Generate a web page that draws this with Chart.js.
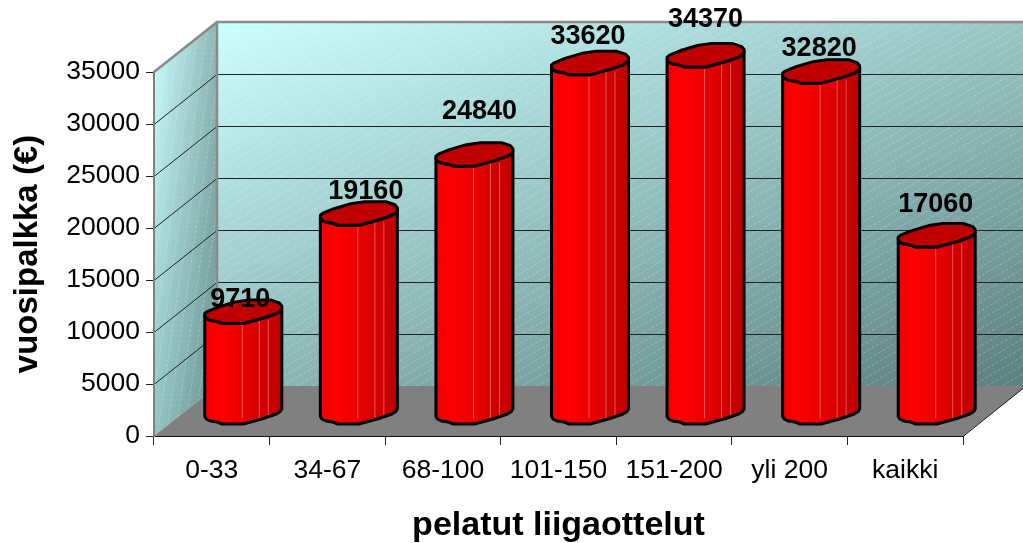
<!DOCTYPE html>
<html>
<head>
<meta charset="utf-8">
<script src="https://cdn.jsdelivr.net/npm/chart.js@4"></script>
<style>
body { margin: 0; background: #fff; }
canvas { display: block; }
</style>
</head>
<body>
<canvas id="salaryChart" width="1023" height="543"></canvas>
<script>
const categories = ['0-33', '34-67', '68-100', '101-150', '151-200', 'yli 200', 'kaikki'];
const salaries = [9710, 19160, 24840, 33620, 34370, 32820, 17060];
const yTicks = [0, 5000, 10000, 15000, 20000, 25000, 30000, 35000];

// 3D look: how far the back wall sits from the front axes
const DEPTH_X = 63;
const DEPTH_Y = 50;
const FONT = '"Liberation Sans", Arial, sans-serif';

// outline of the squashed cylinder, relative to its centre
const FRONT_EDGE = [[-38.5, 6], [-37, 8.5], [-33, 10.5], [-26, 11.5], [-21, 13.5], [0, 13.5], [20, 8], [33, 3.5], [37, 1], [38.5, -1.5]];
const BACK_EDGE = [[38.5, -4], [36, -7], [27, -10], [6, -10], [-8, -8], [-25, -3], [-36, 1.5], [-38.5, 3.5]];
const STRIPES = [38, 55, 64];
// manual label placement in the original, px from the value position
const LABEL_LIFT = [35, 45, 66, 50, 59, 46, 54];
const LABEL_SHIFT = [-3, 7, 5, -2, 0, -2, -1];

function hatch(ctx, x0, y1, x1, dx, dy, step) {
    ctx.save();
    ctx.strokeStyle = 'rgba(255,255,255,0.25)';
    ctx.lineWidth = 1;
    ctx.setLineDash([3, 2]);
    ctx.beginPath();
    for (let p = x0 - 1000; p < x1 + 1000; p += step) {
        ctx.moveTo(p, y1);
        ctx.lineTo(p + dx, y1 + dy);
    }
    ctx.stroke();
    ctx.restore();
}

const wallsPlugin = {
    id: 'walls',
    beforeDraw(chart) {
        const ctx = chart.ctx;
        const x = chart.scales.x;
        const y = chart.scales.y;
        const left = x.left, right = x.right;
        const top = y.top, bottom = y.bottom;
        const backLeft = left + DEPTH_X, backRight = right + DEPTH_X;
        const backTop = top - DEPTH_Y, backBottom = bottom - DEPTH_Y;

        // back wall
        ctx.save();
        ctx.beginPath();
        ctx.rect(backLeft, backTop, backRight - backLeft, backBottom - backTop);
        ctx.clip();
        let g = ctx.createLinearGradient(backLeft, backTop, backLeft + 213, backTop + 582);
        g.addColorStop(0, '#ccffff');
        g.addColorStop(1, '#5c7f7f');
        ctx.fillStyle = g;
        ctx.fillRect(backLeft, backTop, backRight - backLeft, backBottom - backTop);
        hatch(ctx, backLeft, backBottom, backRight, 1200, -700, 15);
        ctx.restore();

        // side wall
        ctx.save();
        ctx.beginPath();
        ctx.moveTo(left, top);
        ctx.lineTo(backLeft, backTop);
        ctx.lineTo(backLeft, backBottom);
        ctx.lineTo(left, bottom);
        ctx.closePath();
        ctx.clip();
        g = ctx.createLinearGradient(left, 0, backLeft, 0);
        g.addColorStop(0, '#ccffff');
        g.addColorStop(1, '#8fb8b8');
        ctx.fillStyle = g;
        ctx.fillRect(left, backTop, DEPTH_X, bottom - backTop);
        g = ctx.createLinearGradient(0, backTop, 0, bottom);
        g.addColorStop(0, 'rgba(0,40,40,0)');
        g.addColorStop(1, 'rgba(0,40,40,0.28)');
        ctx.fillStyle = g;
        ctx.fillRect(left, backTop, DEPTH_X, bottom - backTop);
        ctx.strokeStyle = 'rgba(255,255,255,0.25)';
        ctx.setLineDash([3, 2]);
        ctx.beginPath();
        for (let p = left - 60; p < backLeft; p += 9) {
            ctx.moveTo(p, bottom);
            ctx.lineTo(p + 60, backTop);
        }
        ctx.stroke();
        ctx.restore();

        // floor
        ctx.beginPath();
        ctx.moveTo(left, bottom);
        ctx.lineTo(right, bottom);
        ctx.lineTo(backRight, backBottom);
        ctx.lineTo(backLeft, backBottom);
        ctx.closePath();
        ctx.fillStyle = '#808080';
        ctx.fill();
        ctx.strokeStyle = '#111';
        ctx.lineWidth = 1;
        ctx.beginPath();
        ctx.moveTo(right, bottom + 0.5);
        ctx.lineTo(backRight, backBottom);
        ctx.stroke();

        // gridlines run along the side wall and the back wall
        ctx.strokeStyle = '#222';
        ctx.lineWidth = 1;
        ctx.beginPath();
        y.ticks.forEach((t, i) => {
            if (t.value === 0) return;
            const py = Math.round(y.getPixelForTick(i)) + 0.5;
            ctx.moveTo(left, py);
            ctx.lineTo(backLeft, py - DEPTH_Y);
            if (t.value < yTicks[yTicks.length - 1]) {
                ctx.moveTo(backLeft, py - DEPTH_Y);
                ctx.lineTo(backRight, py - DEPTH_Y);
            }
        });
        ctx.stroke();

        // wall edges
        ctx.strokeStyle = '#8a8a8a';
        ctx.lineWidth = 2.5;
        ctx.beginPath();
        ctx.moveTo(left, top);
        ctx.lineTo(backLeft, backTop);
        ctx.lineTo(backRight, backTop);
        ctx.moveTo(backLeft, backTop);
        ctx.lineTo(backLeft, backBottom);
        ctx.stroke();
    }
};

function tracePoints(ctx, pts, cx, cy) {
    pts.forEach(p => ctx.lineTo(cx + p[0], cy + p[1]));
}

const cylinderPlugin = {
    id: 'cylinders',
    afterDatasetsDraw(chart) {
        const ctx = chart.ctx;
        const bars = chart.getDatasetMeta(0).data;
        ctx.save();
        ctx.lineJoin = 'round';
        bars.forEach(bar => {
            const cx = bar.x + DEPTH_X / 2;
            const topY = bar.y - DEPTH_Y / 2;
            const baseY = bar.base - DEPTH_Y / 2;
            const x0 = cx - 39.5;

            const g = ctx.createLinearGradient(x0, 0, x0 + 79, 0);
            g.addColorStop(0, '#f00000');
            g.addColorStop(0.2, '#ff0000');
            g.addColorStop(0.5, '#ea0000');
            g.addColorStop(0.8, '#cc0000');
            g.addColorStop(1, '#bd0000');
            ctx.fillStyle = g;

            // body
            ctx.beginPath();
            tracePoints(ctx, FRONT_EDGE, cx, baseY);
            tracePoints(ctx, FRONT_EDGE.slice().reverse(), cx, topY);
            ctx.closePath();
            ctx.fill();

            // faint facet lines
            ctx.strokeStyle = 'rgba(255,190,190,0.45)';
            ctx.lineWidth = 1;
            ctx.beginPath();
            STRIPES.forEach(s => {
                ctx.moveTo(x0 + s + 0.5, topY + 10);
                ctx.lineTo(x0 + s + 0.5, baseY + 8);
            });
            ctx.stroke();

            // body outline
            ctx.strokeStyle = '#000';
            ctx.lineWidth = 3;
            ctx.beginPath();
            tracePoints(ctx, FRONT_EDGE, cx, baseY);
            tracePoints(ctx, FRONT_EDGE.slice().reverse(), cx, topY);
            ctx.closePath();
            ctx.stroke();

            // top cap
            ctx.beginPath();
            tracePoints(ctx, FRONT_EDGE, cx, topY);
            tracePoints(ctx, BACK_EDGE, cx, topY);
            ctx.closePath();
            ctx.fillStyle = '#c00000';
            ctx.fill();
            ctx.stroke();
        });

        // value labels go above every bar
        ctx.fillStyle = '#000';
        ctx.font = 'bold 27px ' + FONT;
        ctx.textAlign = 'center';
        ctx.textBaseline = 'middle';
        bars.forEach((bar, i) => {
            ctx.fillText(String(salaries[i]), bar.x + DEPTH_X / 2 + LABEL_SHIFT[i], bar.y - LABEL_LIFT[i]);
        });
        ctx.restore();
    }
};

new Chart(document.getElementById('salaryChart').getContext('2d'), {
    type: 'bar',
    data: {
        labels: categories,
        datasets: [{
            label: 'vuosipalkka',
            data: salaries,
            backgroundColor: 'transparent',
            borderWidth: 0
        }]
    },
    plugins: [wallsPlugin, cylinderPlugin],
    options: {
        responsive: false,
        animation: false,
        layout: { padding: { top: 72, right: 60, left: 0, bottom: 0 } },
        plugins: {
            legend: { display: false },
            tooltip: { enabled: false }
        },
        scales: {
            x: {
                afterFit: scale => { scale.height = 107; },
                grid: { drawOnChartArea: false, tickColor: '#222', tickLength: 9, lineWidth: 1 },
                border: { color: '#111', width: 1 },
                ticks: {
                    color: '#000',
                    padding: 10,
                    maxRotation: 0,
                    autoSkip: false,
                    font: { family: FONT, size: 26.5 }
                },
                title: {
                    display: true,
                    text: 'pelatut liigaottelut',
                    color: '#000',
                    padding: { top: 0, bottom: -3 },
                    font: { family: FONT, size: 34, weight: 'bold' }
                }
            },
            y: {
                min: 0,
                max: yTicks[yTicks.length - 1],
                afterFit: scale => { scale.width = 154; },
                afterBuildTicks: scale => { scale.ticks = yTicks.map(v => ({ value: v })); },
                grid: { drawOnChartArea: false, tickColor: '#222', tickLength: 8, lineWidth: 1 },
                border: { color: '#808080', width: 2 },
                ticks: {
                    color: '#000',
                    padding: 6,
                    font: { family: FONT, size: 26.5 },
                    callback: value => String(value)
                },
                title: {
                    display: true,
                    text: 'vuosipalkka (€)',
                    color: '#000',
                    padding: { top: 8, bottom: 0 },
                    font: { family: FONT, size: 33, weight: 'bold' }
                }
            }
        }
    }
});
</script>
</body>
</html>
